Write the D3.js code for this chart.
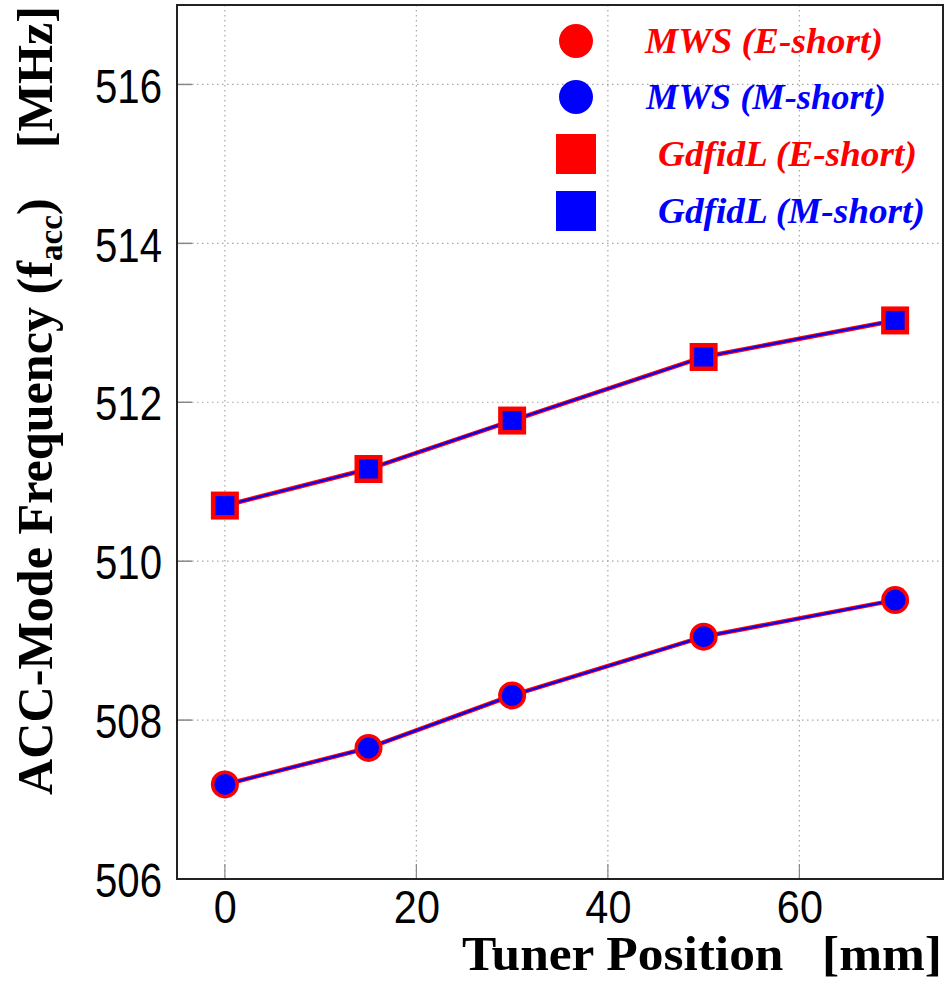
<!DOCTYPE html>
<html>
<head>
    <meta charset="utf-8">
    <title>ACC-Mode Frequency vs Tuner Position</title>
    <script src="https://d3js.org/d3.v7.min.js"></script>
    <style>
        body { margin: 0; background: #fff; }
        .grid line { stroke: #a8a8a8; stroke-width: 1.2; stroke-dasharray: 1.5,3.5; }
        .tick-label { font-family: "Liberation Sans", Arial, sans-serif; fill: #000; }
        .title { font-family: "Liberation Serif", "Times New Roman", serif; font-weight: bold; white-space: pre; }
        .legend-text { font-family: "Liberation Serif", "Times New Roman", serif; font-weight: bold; font-style: italic; }
    </style>
</head>
<body>
    <div id="chart"></div>

    <script>
        // data
        const tunerPos = [0, 15, 30, 50, 70];
        const mwsE = [507.19, 507.65, 508.31, 509.05, 509.51];
        const mwsM = [507.19, 507.65, 508.31, 509.05, 509.51];
        const gdfidlE = [510.70, 511.16, 511.77, 512.57, 513.03];
        const gdfidlM = [510.70, 511.16, 511.77, 512.57, 513.03];
        const xTicks = [0, 20, 40, 60];
        const yTicks = [506, 508, 510, 512, 514, 516];
        const legendLabels = ["MWS (E-short)", "MWS (M-short)", "GdfidL (E-short)", "GdfidL (M-short)"];

        const W = 944, H = 984;
        const margin = {top: 5, right: 1, bottom: 105, left: 177};
        const width = W - margin.left - margin.right;
        const height = H - margin.top - margin.bottom;

        const svg = d3.select("#chart")
            .append("svg")
            .attr("width", W)
            .attr("height", H);

        const g = svg.append("g")
            .attr("transform", `translate(${margin.left},${margin.top})`);

        const x = d3.scaleLinear().domain([-5, 75]).range([0, width]);
        const y = d3.scaleLinear().domain([506, 517]).range([height, 0]);

        // grid
        const grid = g.append("g").attr("class", "grid");
        grid.selectAll(".gx").data(xTicks).enter().append("line")
            .attr("x1", d => x(d)).attr("x2", d => x(d))
            .attr("y1", 0).attr("y2", height);
        grid.selectAll(".gy").data(yTicks.slice(1)).enter().append("line")
            .attr("x1", 0).attr("x2", width)
            .attr("y1", d => y(d)).attr("y2", d => y(d));

        // small inside ticks
        g.append("g").selectAll("line").data(yTicks.slice(1)).enter().append("line")
            .attr("x1", 0).attr("x2", 15)
            .attr("y1", d => y(d)).attr("y2", d => y(d))
            .attr("stroke", "#888").attr("stroke-width", 1.5);
        g.append("g").selectAll("line").data(xTicks).enter().append("line")
            .attr("x1", d => x(d)).attr("x2", d => x(d))
            .attr("y1", height).attr("y2", height - 15)
            .attr("stroke", "#888").attr("stroke-width", 1.2);

        // axes
        const xAxis = g.append("g")
            .attr("transform", `translate(0,${height})`)
            .call(d3.axisBottom(x).tickValues(xTicks).tickSize(0).tickPadding(11));
        xAxis.select(".domain").remove();
        xAxis.selectAll("text")
            .attr("class", "tick-label")
            .style("font-size", "46px")
            .attr("transform", "scale(0.9,1)");

        const yAxis = g.append("g")
            .call(d3.axisLeft(y).tickValues(yTicks).tickSize(0).tickPadding(15));
        yAxis.select(".domain").remove();
        yAxis.selectAll("text")
            .attr("class", "tick-label")
            .style("font-size", "49px")
            .attr("dy", "0.36em")
            .attr("transform", "scale(0.82,1)");
        // keep right edge at the same spot after scaling
        yAxis.selectAll("text").attr("x", -15 / 0.82);

        // lines
        const line = d3.line()
            .x((d, i) => x(tunerPos[i]))
            .y(d => y(d));

        [[mwsE, "#ff0000", 4.5], [gdfidlE, "#ff0000", 4.5], [mwsM, "#0000ff", 2.2], [gdfidlM, "#0000ff", 2.2]]
            .forEach(([vals, col, w]) => {
                g.append("path")
                    .datum(vals)
                    .attr("d", line)
                    .attr("fill", "none")
                    .attr("stroke", col)
                    .attr("stroke-width", w);
            });

        // markers
        g.selectAll(".mwsE").data(mwsE).enter().append("circle")
            .attr("cx", (d, i) => x(tunerPos[i])).attr("cy", d => y(d))
            .attr("r", 14).attr("fill", "#ff0000");
        g.selectAll(".mwsM").data(mwsM).enter().append("circle")
            .attr("cx", (d, i) => x(tunerPos[i])).attr("cy", d => y(d))
            .attr("r", 10.5).attr("fill", "#0000ff");
        g.selectAll(".gdE").data(gdfidlE).enter().append("rect")
            .attr("x", (d, i) => x(tunerPos[i]) - 14).attr("y", d => y(d) - 14)
            .attr("width", 28).attr("height", 28).attr("fill", "#ff0000");
        g.selectAll(".gdM").data(gdfidlM).enter().append("rect")
            .attr("x", (d, i) => x(tunerPos[i]) - 9.5).attr("y", d => y(d) - 9.5)
            .attr("width", 19).attr("height", 19).attr("fill", "#0000ff");

        // frame
        g.append("rect")
            .attr("x", 0).attr("y", 0)
            .attr("width", width).attr("height", height)
            .attr("fill", "none")
            .attr("stroke", "#222")
            .attr("stroke-width", 2);

        // legend
        const legend = svg.append("g");
        const legColors = ["#ff0000", "#0000ff", "#ff0000", "#0000ff"];
        const legRows = [41, 97, 154, 211];
        const legTextX = [645, 646, 658, 658];
        const legTextW = [238, 240, 259, 267];
        legend.append("circle").attr("cx", 576).attr("cy", legRows[0]).attr("r", 17).attr("fill", legColors[0]);
        legend.append("circle").attr("cx", 576).attr("cy", legRows[1]).attr("r", 17).attr("fill", legColors[1]);
        legend.append("rect").attr("x", 556).attr("y", legRows[2] - 20).attr("width", 40).attr("height", 40).attr("fill", legColors[2]);
        legend.append("rect").attr("x", 556).attr("y", legRows[3] - 20).attr("width", 40).attr("height", 40).attr("fill", legColors[3]);

        legendLabels.forEach((lab, i) => {
            const t = legend.append("text")
                .attr("class", "legend-text")
                .attr("x", 0).attr("y", 0)
                .style("font-size", "36px")
                .attr("fill", legColors[i])
                .text(lab);
            const w = t.node().getComputedTextLength();
            t.attr("transform", `translate(${legTextX[i]},${legRows[i] + 12}) scale(${legTextW[i] / w},1)`);
        });

        // x axis title
        const xt = svg.append("text")
            .attr("class", "title")
            .style("font-size", "48px")
            .attr("x", 0).attr("y", 0)
            .text("Tuner Position   [mm]");
        const xtw = xt.node().getComputedTextLength();
        xt.attr("transform", `translate(462,970) scale(${480 / xtw},1)`);

        // y axis title
        const yt = svg.append("text")
            .attr("class", "title")
            .style("font-size", "50px")
            .attr("x", 0).attr("y", 0);
        yt.append("tspan").text("ACC-Mode Frequency (f");
        yt.append("tspan").text("acc").style("font-size", "33px").attr("dy", 10);
        yt.append("tspan").text(")    [MHz]").attr("dy", -10);
        const ytw = yt.node().getComputedTextLength();
        yt.attr("transform", `translate(52,795) rotate(-90) scale(${789 / ytw},1)`);
    </script>
</body>
</html>
